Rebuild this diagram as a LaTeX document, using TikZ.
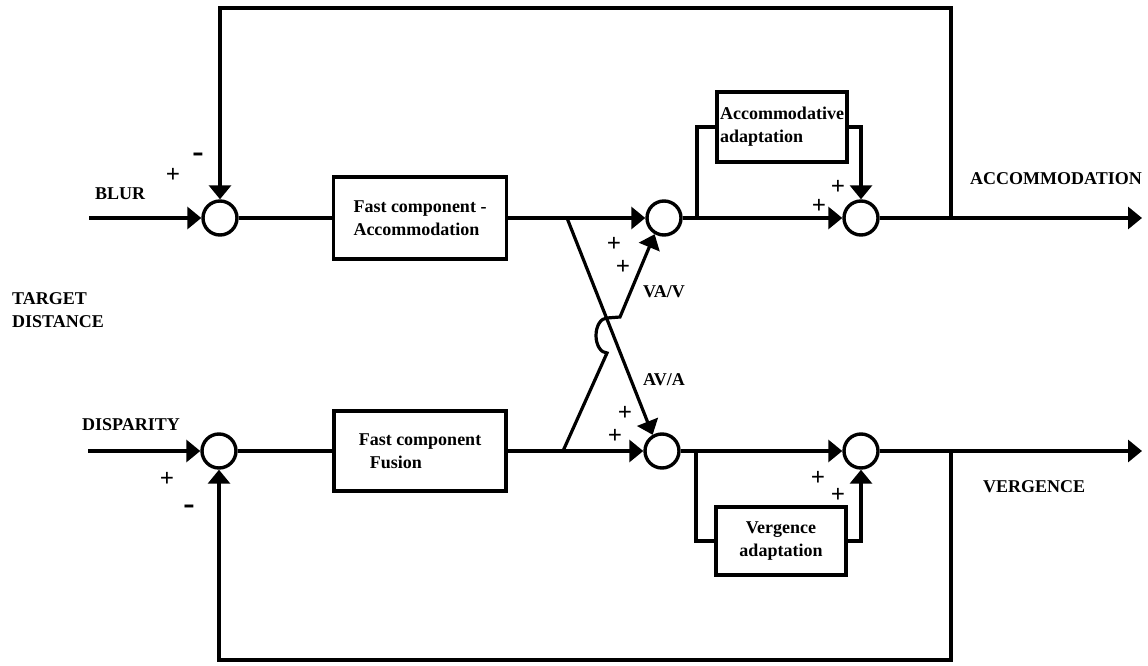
\documentclass[tikz,border=0pt]{standalone}
\usepackage{fontspec}
\setmainfont{Liberation Serif}
\usepackage{tikz}
\usetikzlibrary{arrows.meta}

\tikzset{
	sumnode/.style={circle, draw, line width=3.4pt, minimum size=34pt, inner sep=0pt},
	blockbox/.style={draw, line width=3.4pt, inner sep=1pt, font=\bfseries\fontsize{18}{23}\selectfont},
	lbl/.style={font=\bfseries\fontsize{18}{23}\selectfont, inner sep=0pt, anchor=base west},
	sgn/.style={font=\bfseries\fontsize{25}{25}\selectfont, inner sep=0pt},
	sig/.style={line width=3.2pt},
	tosum/.style={sig, -{Triangle[length=14pt,width=22pt]}}
}

\begin{document}
\begin{tikzpicture}[x=1pt, y=-1pt]
				\useasboundingbox (0,0) rectangle (1148,666);
				\begin{scope}
					\node[sumnode] (sumA) at (220,218) {};
					\node[sumnode] (sumV) at (219,451) {};
					\node[sumnode] (sumA2) at (664,218) {};
					\node[sumnode] (sumV2) at (662,451) {};
					\node[sumnode] (sumA3) at (861,218) {};
					\node[sumnode] (sumV3) at (861,451) {};

					\node[blockbox, minimum width=173pt, minimum height=82pt, align=left] (fastA) at (420,218) {Fast component -\\Accommodation};
					\node[blockbox, minimum width=172pt, minimum height=80pt, align=left] (fastV) at (420,451) {Fast component\\\hspace*{11pt}Fusion};
					\node[blockbox, minimum width=130pt, minimum height=70pt, align=left] (adaptA) at (782,127) {Accommodative\\adaptation};
					\node[blockbox, minimum width=130pt, minimum height=68pt, align=center] (adaptV) at (781,541) {Vergence\\adaptation};

					\coordinate (inA) at (89,218);
					\coordinate (inV) at (88,451);
					\coordinate (tapA) at (567,218); % AV/A branch
					\coordinate (tapV) at (563,451); % VA/V branch
					\coordinate (brA) at (697,218);
					\coordinate (brV) at (696,451);
					\coordinate (fbA) at (951,218);
					\coordinate (fbV) at (951,451);
					\coordinate (topA) at (951,8);
					\coordinate (botV) at (951,660);
					\coordinate (outA) at (1142,218);
					\coordinate (outV) at (1142,451);
					\coordinate (jumpLo) at (607,353);
					\coordinate (jog) at (620,317);

					% accommodation loop
					\draw[tosum] (inA) -- (sumA);
					\draw[sig] (sumA) -- (fastA);
					\draw[tosum] (fastA) -- (sumA2);
					\draw[tosum] (sumA2) -- (sumA3);
					\draw[tosum] (sumA3) -- (outA);
					\draw[tosum] (fbA) -- (topA) -| (sumA.north);
					\draw[sig] (brA) |- (adaptA.west);
					\draw[tosum] (adaptA.east) -| (sumA3.north);

					% vergence loop
					\draw[tosum] (inV) -- (sumV);
					\draw[sig] (sumV) -- (fastV);
					\draw[tosum] (fastV) -- (sumV2);
					\draw[tosum] (sumV2) -- (sumV3);
					\draw[tosum] (sumV3) -- (outV);
					\draw[tosum] (fbV) -- (botV) -| (sumV.south);
					\draw[sig] (brV) |- (adaptV.west);
					\draw[tosum] (adaptV.east) -| (sumV3.south);

					% cross links
					\draw[tosum] (tapA) -- (sumV2.120);
					\draw[tosum] (tapV) -- (jumpLo) arc[start angle=270, end angle=90, x radius=11pt, y radius=17.5pt] -- (jog) -- (sumA2.240);

					\node[lbl] (blur) at (95,199) {BLUR};
					\node[lbl] (disp) at (82,430) {DISPARITY};
					\node[lbl, anchor=west, align=left] (target) at (12,310) {TARGET\\DISTANCE};
					\node[lbl] (accOut) at (970,184) {ACCOMMODATION};
					\node[lbl] (verOut) at (983,492) {VERGENCE};
					\node[lbl] (vav) at (643,297) {VA/V};
					\node[lbl] (ava) at (643,385) {AV/A};

					\node[sgn] (pA1) at (173,175) {+};
					\node[sgn, font=\bfseries\fontsize{34}{34}\selectfont] (mA1) at (198,158) {-};
					\node[sgn] (pV1) at (167,479) {+};
					\node[sgn, font=\bfseries\fontsize{34}{34}\selectfont] (mV1) at (189,510) {-};
					\node[sgn] (pA2a) at (614,244) {+};
					\node[sgn] (pA2b) at (623,267) {+};
					\node[sgn] (pV2a) at (625,413) {+};
					\node[sgn] (pV2b) at (615,436) {+};
					\node[sgn] (pA3a) at (838,187) {+};
					\node[sgn] (pA3b) at (819,206) {+};
					\node[sgn] (pV3a) at (818,478) {+};
					\node[sgn] (pV3b) at (838,495) {+};
				\end{scope}
			\end{tikzpicture}
\end{document}
